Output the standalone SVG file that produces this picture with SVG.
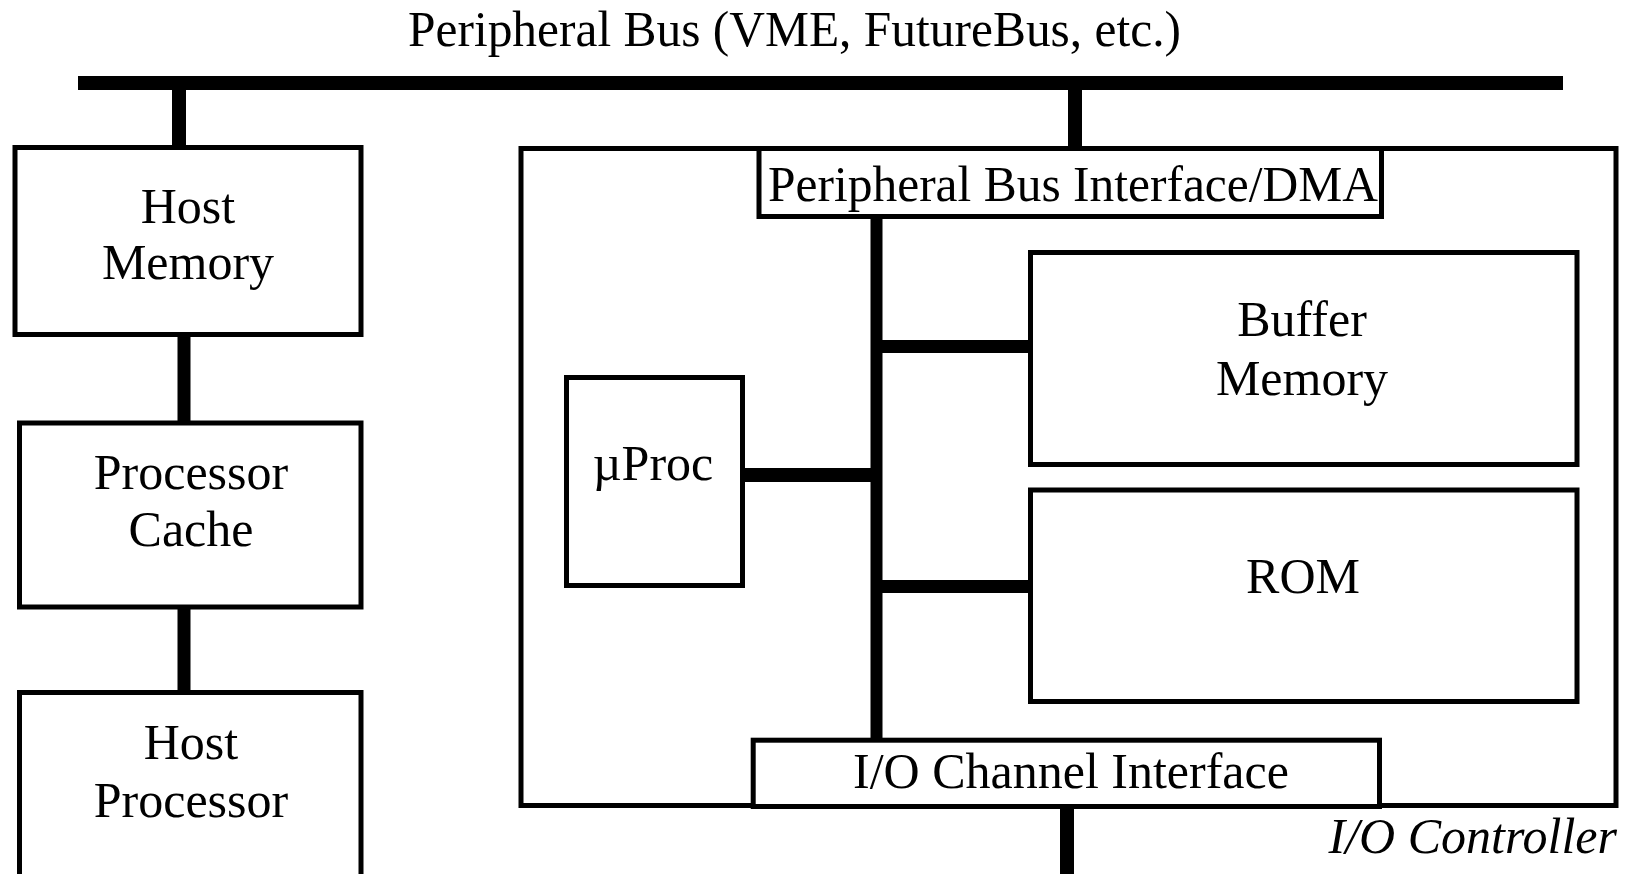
<svg xmlns="http://www.w3.org/2000/svg" width="1631" height="874" viewBox="0 0 1631 874">
<style>
.box{fill:#fff;stroke:#000;stroke-width:5}
.bus{fill:#000}
.t{font-family:"Liberation Serif","Times New Roman",serif;font-size:50px;fill:#000;text-anchor:middle}
.it{font-style:italic;text-anchor:end}
</style>
<rect width="1631" height="874" fill="#fff"/>
<text class="t" x="794.5" y="46" textLength="773" lengthAdjust="spacingAndGlyphs">Peripheral Bus (VME, FutureBus, etc.)</text>
<g id="io-controller">
<rect class="box" x="521" y="148.5" width="1095" height="657"/>
<text class="t it" x="1617" y="853">I/O Controller</text>
</g>
<g id="connectors">
<rect class="bus" x="78" y="76" width="1485" height="14"/>
<rect class="bus" x="172" y="90" width="14" height="58"/>
<rect class="bus" x="177.5" y="336" width="13" height="86"/>
<rect class="bus" x="177.5" y="608" width="13" height="84"/>
<rect class="bus" x="1068" y="90" width="14" height="60"/>
<rect class="bus" x="870.5" y="218" width="12" height="522"/>
<rect class="bus" x="882" y="340" width="148" height="13"/>
<rect class="bus" x="744" y="468" width="128" height="14"/>
<rect class="bus" x="882" y="580" width="154" height="13"/>
<rect class="bus" x="1060" y="806" width="14" height="68"/>
</g>
<g id="host-memory">
<rect class="box" x="15" y="147.5" width="346" height="187"/>
<text class="t" x="188" y="223">Host</text>
<text class="t" x="188" y="279">Memory</text>
</g>
<g id="processor-cache">
<rect class="box" x="19.5" y="423" width="341.5" height="184"/>
<text class="t" x="191" y="489">Processor</text>
<text class="t" x="191" y="546">Cache</text>
</g>
<g id="host-processor">
<rect class="box" x="19.5" y="692.5" width="341.5" height="250"/>
<text class="t" x="191" y="759">Host</text>
<text class="t" x="191" y="817">Processor</text>
</g>
<g id="pbi-dma">
<rect class="box" x="759" y="148.5" width="622.5" height="68"/>
<text class="t" x="1073" y="201" textLength="610" lengthAdjust="spacingAndGlyphs">Peripheral Bus Interface/DMA</text>
</g>
<g id="buffer-memory">
<rect class="box" x="1030.5" y="252.5" width="546.5" height="212"/>
<text class="t" x="1302" y="336">Buffer</text>
<text class="t" x="1302" y="395">Memory</text>
</g>
<g id="uproc">
<rect class="box" x="566.5" y="377.5" width="176" height="208"/>
<text class="t" x="653" y="480">µProc</text>
</g>
<g id="rom">
<rect class="box" x="1030.5" y="490" width="546.5" height="211.5"/>
<text class="t" x="1303" y="593">ROM</text>
</g>
<g id="io-channel-interface">
<rect class="box" x="753.2" y="740.2" width="626.3" height="66.3"/>
<text class="t" x="1071" y="788">I/O Channel Interface</text>
</g>
</svg>
